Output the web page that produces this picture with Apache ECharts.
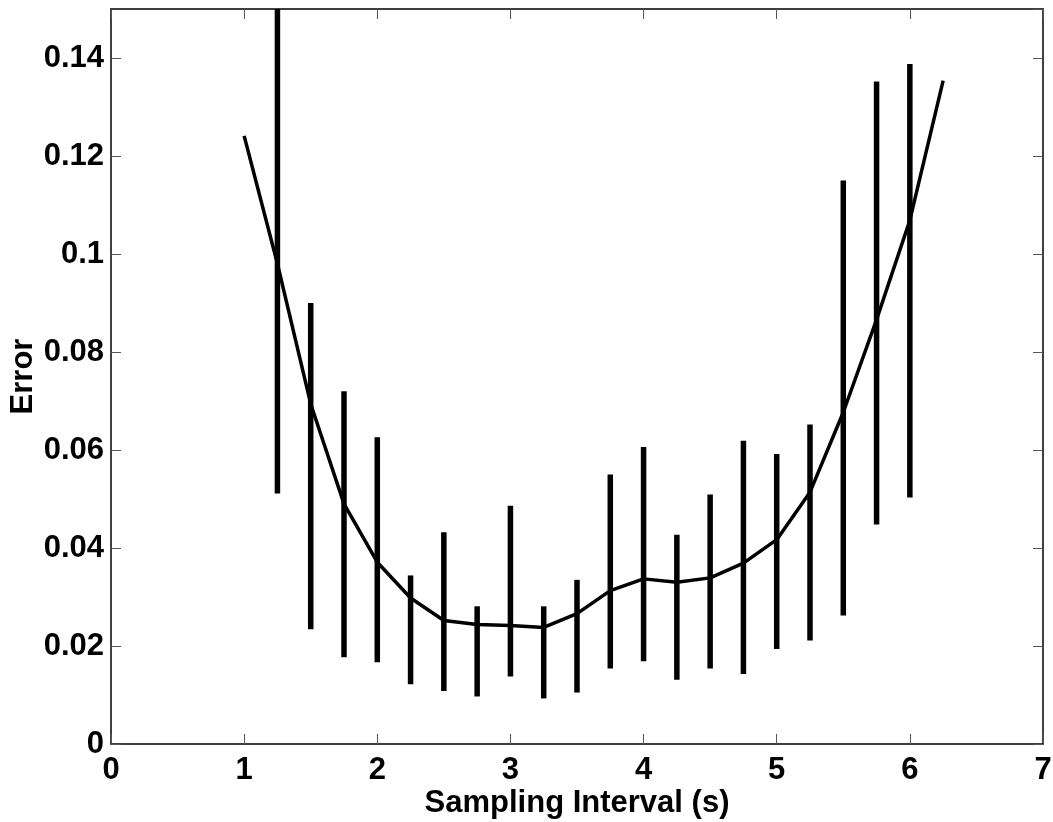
<!DOCTYPE html>
<html>
<head>
<meta charset="utf-8">
<script src="https://cdn.jsdelivr.net/npm/echarts@6/dist/echarts.min.js"></script>
<style>
html,body{margin:0;padding:0;background:#fff;}
#chart{width:1053px;height:822px;}
</style>
</head>
<body>
<div id="chart"></div>
<script>
// Mean error curve
const lineX = [1, 1.25, 1.5, 1.75, 2, 2.25, 2.5, 2.75, 3, 3.25, 3.5, 3.75, 4, 4.25, 4.5, 4.75, 5, 5.25, 5.5, 5.75, 6, 6.25];
const lineY = [0.1241, 0.098, 0.0694, 0.049, 0.0371, 0.0298, 0.0252, 0.0244, 0.0242, 0.0238, 0.0266, 0.0313, 0.0337, 0.0330, 0.0339, 0.0369, 0.0417, 0.0514, 0.0677, 0.0866, 0.1069, 0.1354];
// Error bars
const barX = [1.25, 1.5, 1.75, 2, 2.25, 2.5, 2.75, 3, 3.25, 3.5, 3.75, 4, 4.25, 4.5, 4.75, 5, 5.25, 5.5, 5.75, 6];
const barLow = [0.0511, 0.0234, 0.0177, 0.0167, 0.0122, 0.0108, 0.0097, 0.0138, 0.0093, 0.0105, 0.0154, 0.0169, 0.0131, 0.0154, 0.0143, 0.0194, 0.0211, 0.0262, 0.0448, 0.0503];
const barHigh = [0.165, 0.0900, 0.0720, 0.0626, 0.0344, 0.0432, 0.0281, 0.0486, 0.0281, 0.0335, 0.0550, 0.0606, 0.0427, 0.0509, 0.0619, 0.0592, 0.0652, 0.1150, 0.1352, 0.1388];
// Axes
const xMin = 0, xMax = 7, xStep = 1;
const yMin = 0, yMax = 0.15, yStep = 0.02;
const xName = 'Sampling Interval (s)';
const yName = 'Error';

const FONT = 'Liberation Sans, Arial, Helvetica, sans-serif';
const chart = echarts.init(document.getElementById('chart'), null, {renderer: 'canvas'});

const baseX = {
  type: 'value', min: xMin, max: xMax, interval: xStep,
  splitLine: {show: false},
  axisLine: {show: true, onZero: false, lineStyle: {color: '#000', width: 1.5}},
  axisTick: {show: true, inside: true, length: 10, lineStyle: {color: '#555', width: 1}}
};
const baseY = {
  type: 'value', min: yMin, max: yMax, interval: yStep,
  splitLine: {show: false},
  axisLine: {show: true, onZero: false, lineStyle: {color: '#000', width: 1.5}},
  axisTick: {show: true, inside: true, length: 10, lineStyle: {color: '#555', width: 1}}
};

const option = {
  animation: false,
  backgroundColor: '#fff',
  grid: {left: 111, right: 10, top: 9, bottom: 78, containLabel: false, outerBoundsMode: 'none'},
  xAxis: [
    Object.assign({}, baseX, {
      position: 'bottom',
      name: xName, nameLocation: 'middle', nameGap: 44, nameMoveOverlap: false,
      nameTextStyle: {fontFamily: FONT, fontWeight: 'bold', fontSize: 31, color: '#000'},
      axisLabel: {show: true, margin: 11, fontFamily: FONT, fontWeight: 'bold', fontSize: 31, color: '#000'}
    }),
    Object.assign({}, baseX, {position: 'top', axisLabel: {show: false}})
  ],
  yAxis: [
    Object.assign({}, baseY, {
      position: 'left',
      name: yName, nameLocation: 'middle', nameGap: 72, nameRotate: 90, nameMoveOverlap: false,
      nameTextStyle: {fontFamily: FONT, fontWeight: 'bold', fontSize: 31, color: '#000'},
      axisLabel: {show: true, margin: 7, showMaxLabel: false, fontFamily: FONT, fontWeight: 'bold', fontSize: 31, color: '#000',
        formatter: function (v) { return String(Math.round(v * 1000) / 1000); }}
    }),
    Object.assign({}, baseY, {position: 'right', axisLabel: {show: false}})
  ],
  series: [
    {
      type: 'custom',
      xAxisIndex: 0, yAxisIndex: 0,
      clip: true,
      data: barX.map((x, i) => [x, barLow[i], barHigh[i]]),
      renderItem: function (params, api) {
        const cs = params.coordSys;
        const p1 = api.coord([api.value(0), api.value(1)]);
        const p2 = api.coord([api.value(0), api.value(2)]);
        const yTop = Math.max(cs.y, Math.min(p1[1], p2[1]));
        const yBot = Math.min(cs.y + cs.height, Math.max(p1[1], p2[1]));
        return {
          type: 'line',
          shape: {x1: p1[0], y1: yBot, x2: p1[0], y2: yTop},
          style: {stroke: '#000', lineWidth: 5.5, lineCap: 'butt'}
        };
      },
      z: 2
    },
    {
      type: 'line',
      xAxisIndex: 0, yAxisIndex: 0,
      data: lineX.map((x, i) => [x, lineY[i]]),
      showSymbol: false, symbol: 'none',
      lineStyle: {color: '#000', width: 3.5, join: 'round'},
      z: 3
    }
  ]
};
chart.setOption(option);
</script>
</body>
</html>
